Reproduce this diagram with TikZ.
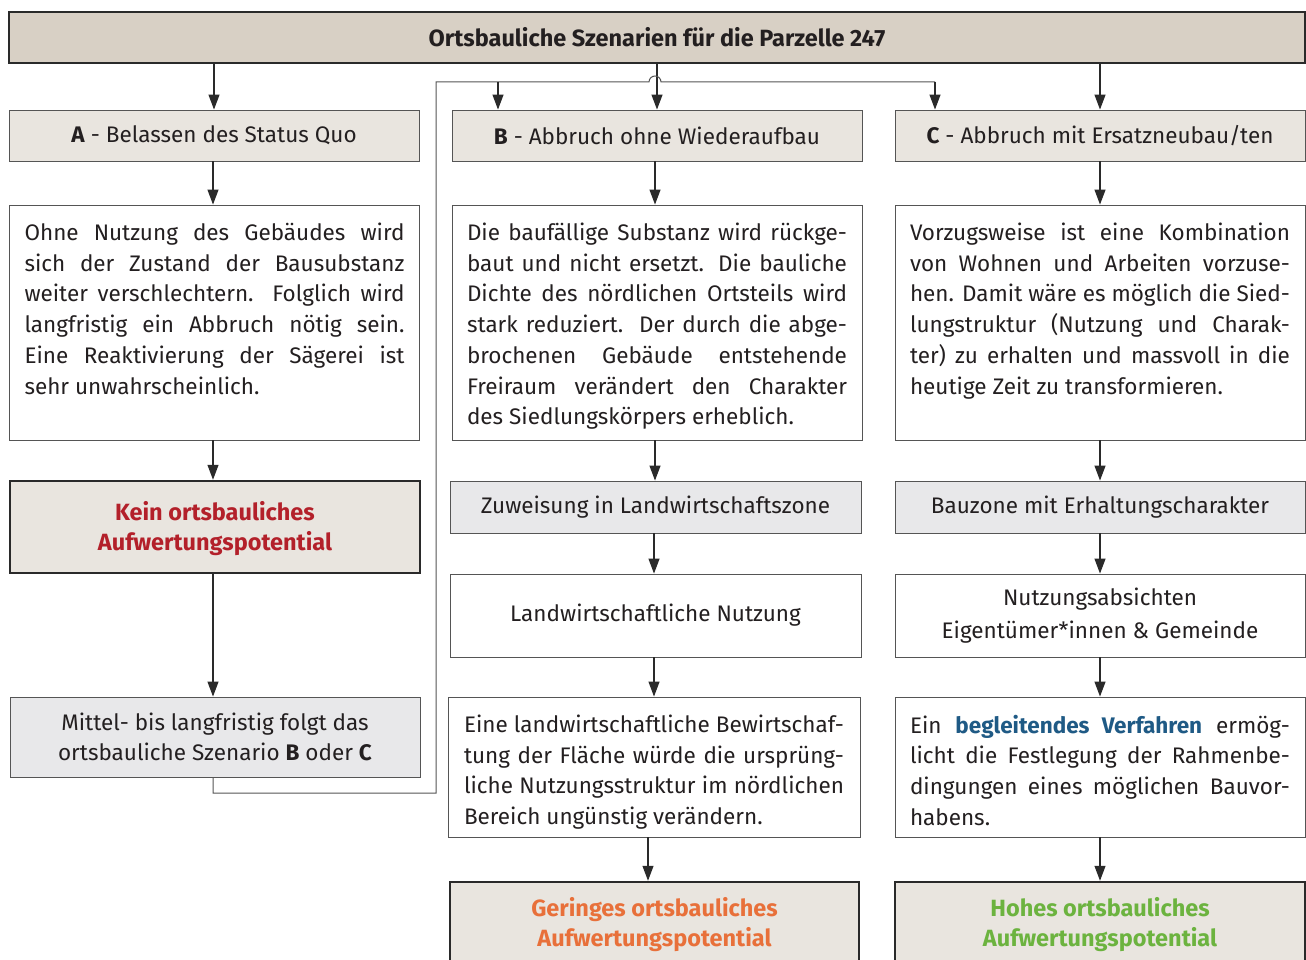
\documentclass[tikz,border=0pt]{standalone}
\usepackage{fontspec}
\setmainfont{Fira Sans}
\usetikzlibrary{arrows.meta}
\definecolor{txt}{HTML}{231F20}
\definecolor{titlefill}{HTML}{D8D0C5}
\definecolor{beige}{HTML}{E9E5DF}
\definecolor{grayfill}{HTML}{E8E8EA}
\definecolor{linec}{HTML}{555555}
\definecolor{dark}{HTML}{2A2A2A}
\definecolor{redt}{HTML}{B3202A}
\definecolor{oranget}{HTML}{E8703A}
\definecolor{greent}{HTML}{6CB33F}
\definecolor{bluet}{HTML}{1F5A85}
\newcommand\fs{\fontsize{22.5}{30.7}\selectfont}
\newcommand\fb{\fontsize{23.5}{30.5}\selectfont\bfseries}
\newcommand\jl[1]{\hbox to\linewidth{#1}}
\newcommand\tb[2]{\parbox[c][#1][t]{380pt}{\vspace*{18pt}#2}}
\newcommand\lift{\rule{0pt}{22pt}}
\tikzset{
  every node/.style={font=\fs, text=txt},
  hdr/.style={draw=dark, line width=2.5pt, fill=titlefill, minimum width=1296pt, minimum height=51pt, inner sep=0pt, font=\fb},
  lbl/.style={draw=linec, line width=0.9pt, fill=#1, minimum width=410pt, minimum height=51pt, inner sep=0pt, align=center},
  txtbox/.style={draw=linec, line width=0.9pt, fill=white, inner xsep=15pt, inner ysep=0pt},
  res/.style={draw=dark, line width=2.5pt, fill=beige, minimum width=410pt, inner sep=0pt, align=center, font=\fb},
  arr/.style={draw=dark, line width=1.2pt, -{Triangle[length=15pt,width=11pt]}},
  conn/.style={draw=linec, line width=1pt},
}
\begin{document}
\begin{tikzpicture}[x=1pt,y=-1pt]
\path[use as bounding box, clip] (0,0) rectangle (1306,960);
\fill[white] (0,0) rectangle (1306,960);

\node[hdr] (title) at (657,37.5) {Ortsbauliche Szenarien für die Parzelle 247};

\node[lbl=beige] (A1) at (214,135.5) {\textbf{A} - Belassen des Status Quo};
\node[lbl=beige] (B1) at (657,135.5) {\textbf{B} - Abbruch ohne Wiederaufbau};
\node[lbl=beige] (C1) at (1100,135.5) {\textbf{C} - Abbruch mit Ersatzneubau/ten};

\node[txtbox] (A2) at (214.5,322.5) {\tb{235pt}{%
\jl{Ohne Nutzung des Gebäudes wird}
\jl{sich der Zustand der Bausubstanz}
\jl{weiter verschlechtern. Folglich wird}
\jl{langfristig ein Abbruch nötig sein.}
\jl{Eine Reaktivierung der Sägerei ist}
\hbox{sehr unwahrscheinlich.}}};

\node[txtbox] (B2) at (657,322.5) {\tb{235pt}{%
\jl{Die baufällige Substanz wird rückge-}
\jl{baut und nicht ersetzt. Die bauliche}
\jl{Dichte des nördlichen Ortsteils wird}
\jl{stark reduziert.\ \ Der durch die abge-}
\jl{brochenen Gebäude entstehende}
\jl{Freiraum verändert den Charakter}
\hbox{des Siedlungskörpers erheblich.}}};

\node[txtbox] (C2) at (1100,322.5) {\tb{235pt}{%
\jl{Vorzugsweise ist eine Kombination}
\jl{von Wohnen und Arbeiten vorzuse-}
\jl{hen. Damit wäre es möglich die Sied-}
\jl{lungstruktur (Nutzung und Charak-}
\jl{ter) zu erhalten und massvoll in die}
\hbox{heutige Zeit zu transformieren.}}};

\node[res, minimum height=92pt, text=redt] (A3) at (215,527) {\lift Kein ortsbauliches\\Aufwertungspotential};
\node[lbl=grayfill, minimum width=411pt, minimum height=52pt] (B3) at (655.5,507) {Zuweisung in Landwirtschaftszone};
\node[lbl=grayfill, minimum height=52pt] (C3) at (1100,507) {Bauzone mit Erhaltungscharakter};

\node[lbl=white, minimum width=411pt, minimum height=83pt] (B4) at (655.5,615.5) {Landwirtschaftliche Nutzung};
\node[lbl=white, minimum height=83pt] (C4) at (1100,615.5) {Nutzungsabsichten\\[3pt]Eigentümer*innen \& Gemeinde};

\node[lbl=grayfill, minimum height=80pt] (A4) at (215,737) {Mittel- bis langfristig folgt das\\ortsbauliche Szenario \textbf{B} oder \textbf{C}};

\node[txtbox, inner xsep=16pt] (B5) at (654,767) {\tb{140pt}{%
\jl{Eine landwirtschaftliche Bewirtschaf-}
\jl{tung der Fläche würde die ursprüng-}
\jl{liche Nutzungsstruktur im nördlichen}
\hbox{Bereich ungünstig verändern.}}};

\node[txtbox] (C5) at (1100,767) {\tb{140pt}{%
\jl{Ein \textbf{\textcolor{bluet}{begleitendes Verfahren}} ermög-}
\jl{licht die Festlegung der Rahmenbe-}
\jl{dingungen eines möglichen Bauvor-}
\hbox{habens.}}};

\node[res, minimum width=409pt, minimum height=82pt, text=oranget] (B6) at (654.5,923) {\lift Geringes ortsbauliches\\Aufwertungspotential};
\node[res, minimum height=82pt, text=greent] (C6) at (1100,923) {\lift Hohes ortsbauliches\\Aufwertungspotential};

% arrows from title
\draw[arr] (title.south -| A1.north) -- (A1.north);
\draw[arr] (title.south -| B1.north) -- (B1.north);
\draw[arr] (title.south -| C1.north) -- (C1.north);

% column A
\draw[arr] (A1.south -| 213,0) -- (A2.north -| 213,0);
\draw[arr] (A2.south -| 213,0) -- (A3.north -| 213,0);
\draw[arr] (A3.south -| 213,0) -- (A4.north -| 213,0);

% column B
\draw[arr] (B1.south -| 655,0) -- (B2.north -| 655,0);
\draw[arr] (B2.south -| 655,0) -- (B3.north -| 655,0);
\draw[arr] (B3.south -| 654,0) -- (B4.north -| 654,0);
\draw[arr] (B4.south -| 654,0) -- (B5.north -| 654,0);
\draw[arr] (B5.south -| 648,0) -- (B6.north -| 648,0);

% column C
\draw[arr] (C1.south) -- (C2.north);
\draw[arr] (C2.south) -- (C3.north);
\draw[arr] (C3.south) -- (C4.north);
\draw[arr] (C4.south) -- (C5.north);
\draw[arr] (C5.south) -- (C6.north);

% loop from Mittel box back to B and C
\coordinate (lb) at (436,793);
\coordinate (lt) at (436,82);
\coordinate (jB) at (498,82);
\coordinate (jC) at (935,82);
\draw[conn] (A4.south -| 213,0) |- (lb) -- (lt) -- (jB) -- (649,82) arc[start angle=180, end angle=0, radius=6pt] -- (jC);
\draw[arr] (jB) -- (B1.north -| jB);
\draw[arr] (jC) -- (C1.north -| jC);
\end{tikzpicture}
\end{document}
